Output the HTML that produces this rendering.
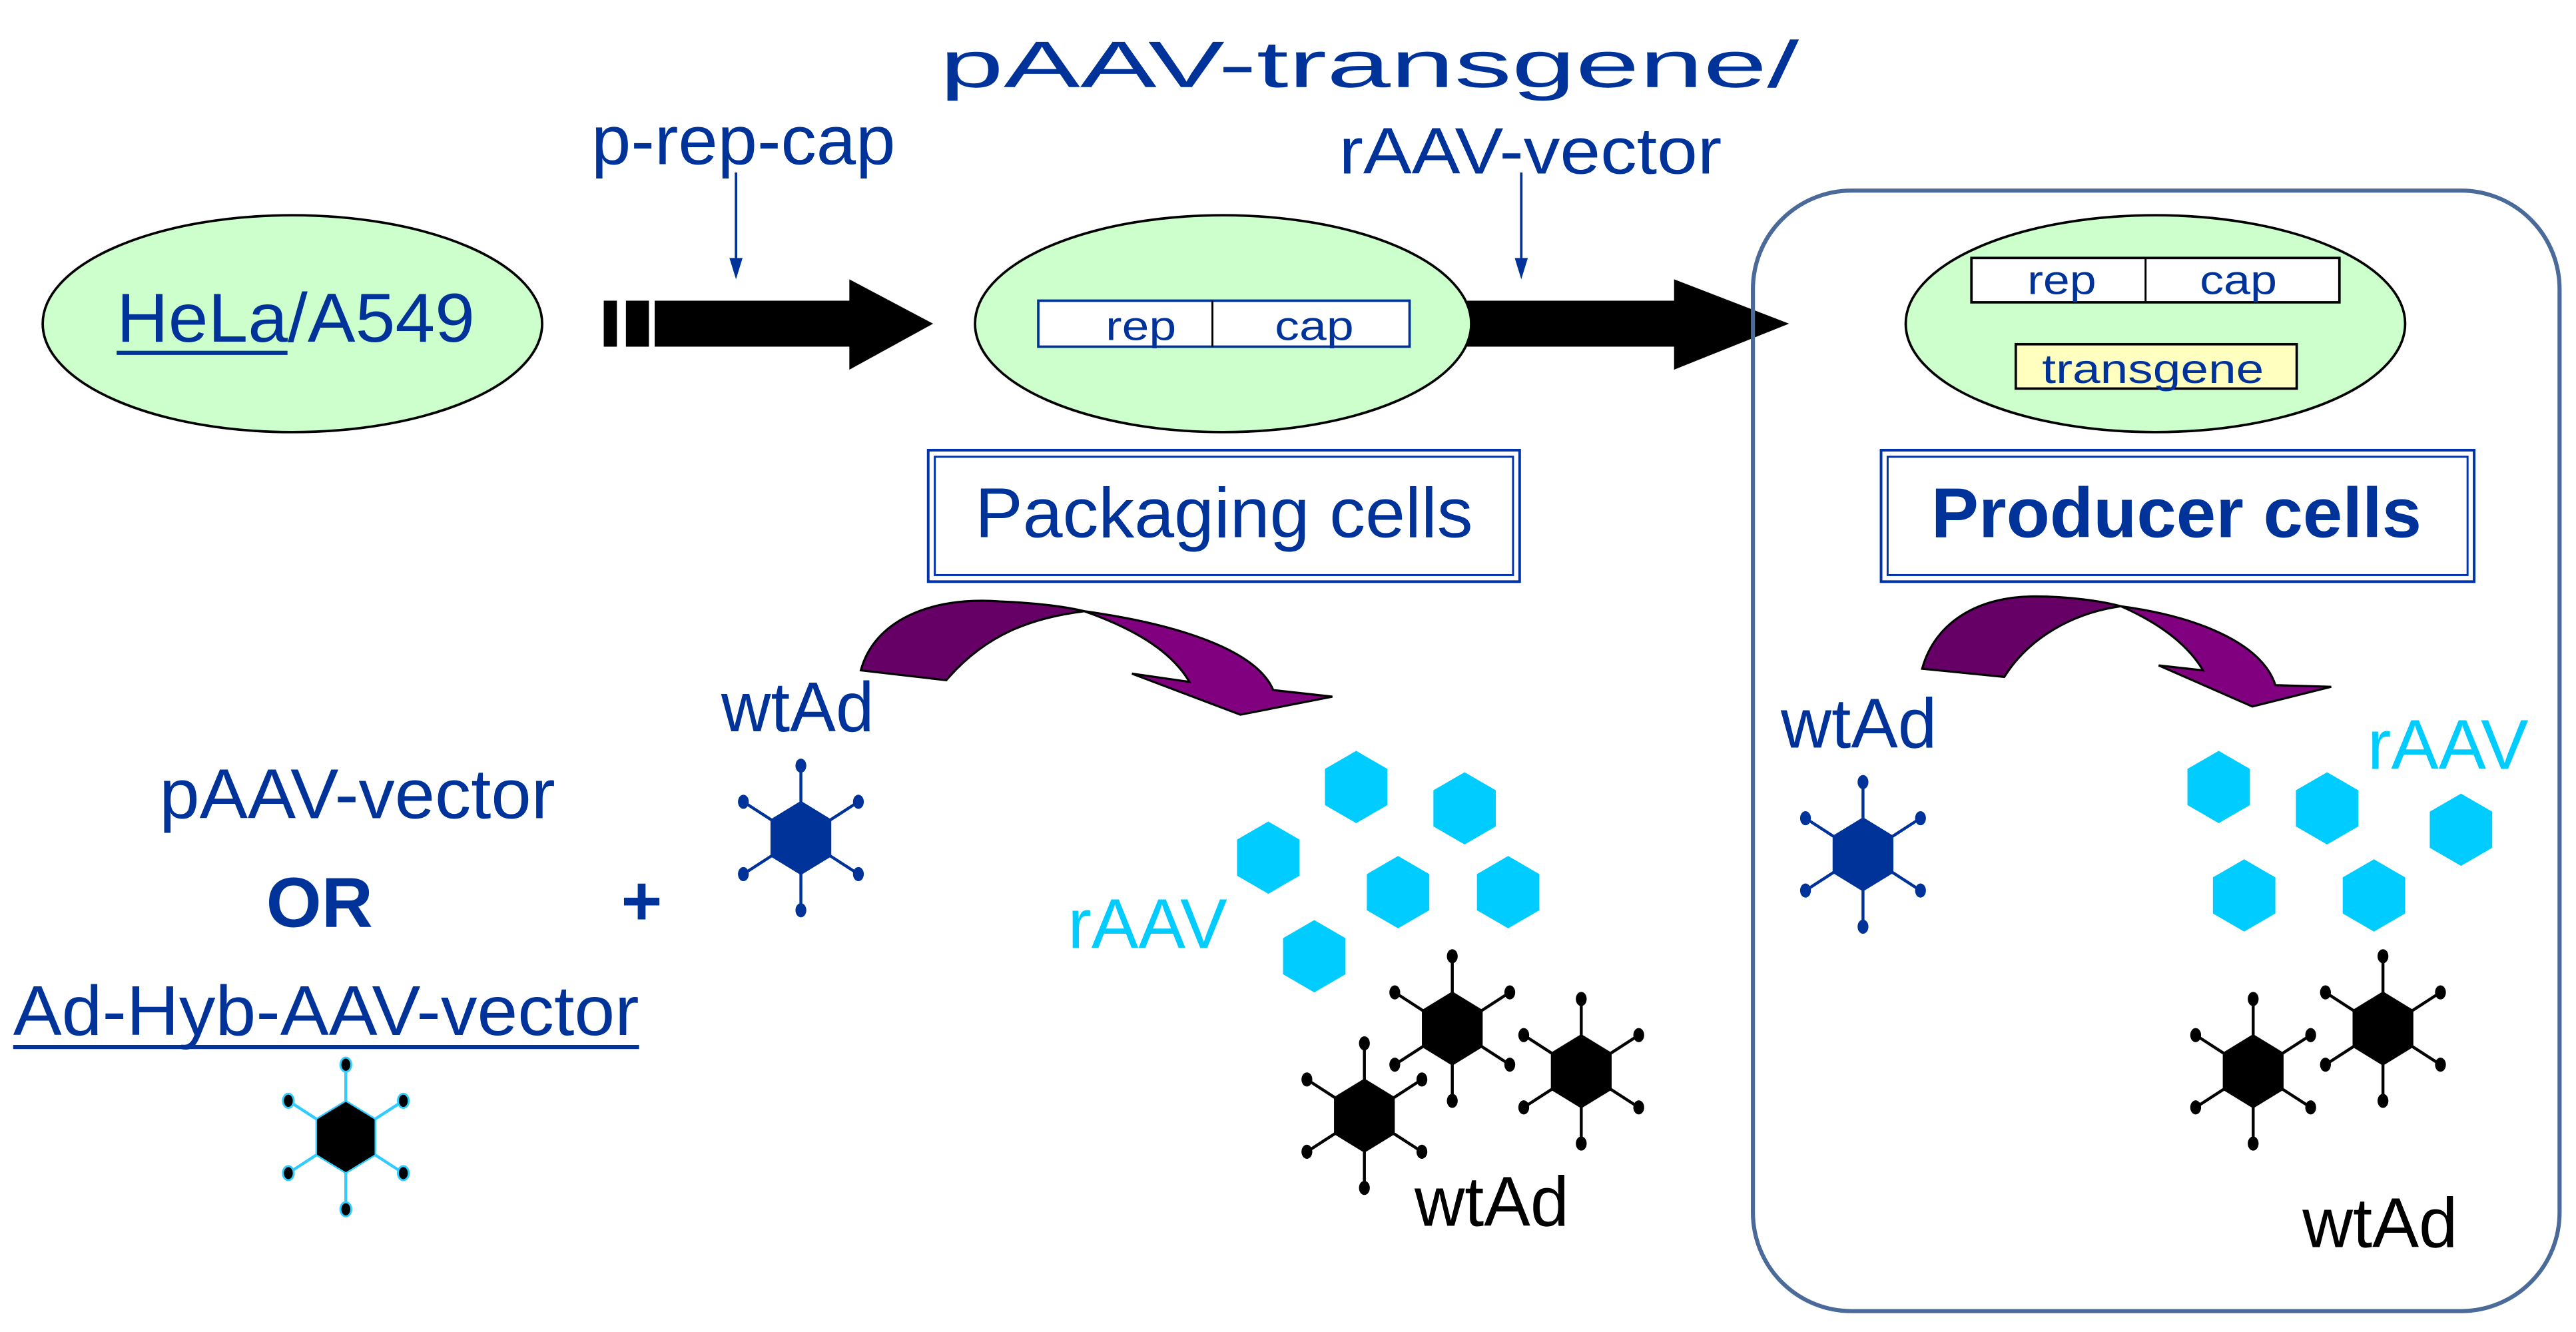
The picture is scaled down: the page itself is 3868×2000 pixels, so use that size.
<!DOCTYPE html>
<html><head><meta charset="utf-8"><style>
html,body{margin:0;padding:0;background:#fff;}
svg{display:block;}
text{font-family:"Liberation Sans Narrow","Liberation Sans",sans-serif;}
</style></head><body>
<svg width="3868" height="2000" viewBox="0 0 1568 810.7" preserveAspectRatio="none" xmlns="http://www.w3.org/2000/svg">
<defs>
<g id="vir">
<g stroke-width="1.8">
<line x1="0" y1="-22" x2="0" y2="-44"/><line x1="0" y1="22" x2="0" y2="44"/>
<line x1="18" y1="-11" x2="35" y2="-22"/><line x1="-18" y1="-11" x2="-35" y2="-22"/>
<line x1="18" y1="11" x2="35" y2="22"/><line x1="-18" y1="11" x2="-35" y2="22"/>
</g>
<polygon points="0,-22 18,-11 18,11 0,22 -18,11 -18,-11"/>
</g>
<g id="dots">
<ellipse cx="0" cy="-44" rx="3.3" ry="4.3"/><ellipse cx="0" cy="44" rx="3.3" ry="4.3"/>
<ellipse cx="35" cy="-22" rx="3.3" ry="4.3"/><ellipse cx="-35" cy="-22" rx="3.3" ry="4.3"/>
<ellipse cx="35" cy="22" rx="3.3" ry="4.3"/><ellipse cx="-35" cy="22" rx="3.3" ry="4.3"/>
</g>
<polygon id="hex" points="0,-22 19,-11 19,11 0,22 -19,11 -19,-11" fill="#00ccff"/>
</defs>

<text x="360" y="100" font-size="42" fill="#003399" textLength="185" lengthAdjust="spacingAndGlyphs">p-rep-cap</text>
<line x1="448" y1="105" x2="448" y2="160" stroke="#003399" stroke-width="1.5"/>
<polygon points="444,157 452,157 448,170" fill="#003399"/>
<text x="572" y="53" font-size="40" fill="#003399" textLength="523" lengthAdjust="spacingAndGlyphs">pAAV-transgene/</text>
<text x="815" y="105.5" font-size="40" fill="#003399" textLength="233" lengthAdjust="spacingAndGlyphs">rAAV-vector</text>
<line x1="926" y1="105" x2="926" y2="160" stroke="#003399" stroke-width="1.5"/>
<polygon points="922,157 930,157 926,170" fill="#003399"/>

<rect x="367.5" y="183" width="8" height="28" fill="#000"/>
<rect x="381" y="183" width="14" height="28" fill="#000"/>
<polygon points="398.5,183 517,183 517,170 568,197 517,225 517,211 398.5,211" fill="#000"/>
<polygon points="880,183 1019,183 1019,170 1089,197 1019,225 1019,211 880,211" fill="#000"/>

<ellipse cx="178" cy="197" rx="152" ry="66" fill="#ccffcc" stroke="#000" stroke-width="1.5"/>
<text x="71" y="208" font-size="42" fill="#003399" textLength="218" lengthAdjust="spacingAndGlyphs">HeLa/A549</text>
<rect x="71" y="213.5" width="104" height="2.5" fill="#003399"/>

<ellipse cx="744.5" cy="197" rx="151" ry="66" fill="#ccffcc" stroke="#000" stroke-width="1.5"/>
<rect x="632" y="183" width="226" height="28" fill="#fff" stroke="#003399" stroke-width="1.5"/>
<line x1="738" y1="183" x2="738" y2="211" stroke="#000" stroke-width="1.2"/>
<text x="673" y="207" font-size="25" fill="#003399" textLength="43" lengthAdjust="spacingAndGlyphs">rep</text>
<text x="776" y="207" font-size="25" fill="#003399" textLength="48" lengthAdjust="spacingAndGlyphs">cap</text>

<ellipse cx="1312" cy="197" rx="152" ry="66" fill="#ccffcc" stroke="#000" stroke-width="1.5"/>
<rect x="1200" y="157" width="224" height="27" fill="#fff" stroke="#000" stroke-width="1.5"/>
<line x1="1306" y1="157" x2="1306" y2="184" stroke="#000" stroke-width="1.2"/>
<text x="1234" y="179" font-size="25" fill="#003399" textLength="42" lengthAdjust="spacingAndGlyphs">rep</text>
<text x="1339" y="179" font-size="25" fill="#003399" textLength="47" lengthAdjust="spacingAndGlyphs">cap</text>
<rect x="1227" y="209.5" width="171" height="27" fill="#ffffc0" stroke="#000" stroke-width="1.5"/>
<text x="1243" y="233" font-size="25" fill="#003399" textLength="135" lengthAdjust="spacingAndGlyphs">transgene</text>

<rect x="1067" y="116" width="491" height="682" rx="60" ry="60" fill="none" stroke="#4a6a9a" stroke-width="2.5"/>

<rect x="565" y="274" width="360" height="80" fill="#fff" stroke="#0033aa" stroke-width="1.6"/>
<rect x="569" y="278" width="352" height="72" fill="none" stroke="#0033aa" stroke-width="1.2"/>
<text x="593.5" y="327" font-size="43" fill="#003399" textLength="303" lengthAdjust="spacingAndGlyphs">Packaging cells</text>
<rect x="1145" y="274" width="361" height="80" fill="#fff" stroke="#0033aa" stroke-width="1.6"/>
<rect x="1149" y="278" width="353" height="72" fill="none" stroke="#0033aa" stroke-width="1.2"/>
<text x="1175.5" y="327" font-size="43" font-weight="bold" fill="#003399" textLength="298.5" lengthAdjust="spacingAndGlyphs">Producer cells</text>

<g stroke="#000" stroke-width="1.3" stroke-linejoin="miter">
<path d="M524,408 C532,378 566,363 608,366 C630,367 648,369 660,372 C628,376 600,386 576,414 Z" fill="#660066"/>
<path d="M660,372 C718,380 765,396 775,420 L811,424 L755,435 L689,410 L724,415 C714,398 694,384 660,372 Z" fill="#800080"/>
<path d="M1170,407 C1178,378 1205,363 1238,363 C1260,363 1280,366 1291,369 C1262,373 1235,388 1220,412 Z" fill="#660066"/>
<path d="M1291,369 C1343,376 1378,394 1385,417 L1419,418 L1371,430 L1314,405 L1341,408 C1332,393 1316,380 1291,369 Z" fill="#800080"/>
</g>

<text x="439" y="445" font-size="43" fill="#003399" textLength="93" lengthAdjust="spacingAndGlyphs">wtAd</text>
<text x="97" y="498" font-size="43" fill="#003399" textLength="241" lengthAdjust="spacingAndGlyphs">pAAV-vector</text>
<text x="162" y="564" font-size="43" font-weight="bold" fill="#003399" textLength="65" lengthAdjust="spacingAndGlyphs">OR</text>
<text x="378" y="563" font-size="43" font-weight="bold" fill="#003399">+</text>
<text x="8" y="630" font-size="43" fill="#003399" textLength="381" lengthAdjust="spacingAndGlyphs">Ad-Hyb-AAV-vector</text>
<rect x="8" y="636" width="381" height="2.5" fill="#003399"/>
<text x="650" y="577" font-size="43" fill="#00ccff" textLength="97" lengthAdjust="spacingAndGlyphs">rAAV</text>
<text x="861" y="746" font-size="43" fill="#000" textLength="94" lengthAdjust="spacingAndGlyphs">wtAd</text>

<g transform="translate(487.5,510)" fill="#003399" stroke="#003399"><use href="#vir"/><use href="#dots" stroke="none"/></g>
<g transform="translate(210.5,692)"><g fill="#000" stroke="#33ccff"><use href="#vir"/></g><g fill="#000" stroke="#33ccff" stroke-width="1.2"><use href="#dots"/></g></g>
<g fill="#000" stroke="#000">
<g transform="translate(884,626)"><use href="#vir"/><use href="#dots" stroke="none"/></g>
<g transform="translate(962.5,652)"><use href="#vir"/><use href="#dots" stroke="none"/></g>
<g transform="translate(830.5,679)"><use href="#vir"/><use href="#dots" stroke="none"/></g>
<g transform="translate(1371.5,652)"><use href="#vir"/><use href="#dots" stroke="none"/></g>
<g transform="translate(1450.5,626)"><use href="#vir"/><use href="#dots" stroke="none"/></g>
</g>
<g transform="translate(1134,520)" fill="#003399" stroke="#003399"><use href="#vir"/><use href="#dots" stroke="none"/></g>

<use href="#hex" x="825.5" y="479"/>
<use href="#hex" x="891.5" y="492"/>
<use href="#hex" x="772" y="522"/>
<use href="#hex" x="851" y="543"/>
<use href="#hex" x="918" y="543"/>
<use href="#hex" x="800" y="582"/>
<use href="#hex" x="1350.5" y="479"/>
<use href="#hex" x="1416.5" y="492"/>
<use href="#hex" x="1498" y="505"/>
<use href="#hex" x="1366" y="545"/>
<use href="#hex" x="1445" y="545"/>

<text x="1084" y="455" font-size="43" fill="#003399" textLength="95" lengthAdjust="spacingAndGlyphs">wtAd</text>
<text x="1441" y="468" font-size="43" fill="#00ccff" textLength="98" lengthAdjust="spacingAndGlyphs">rAAV</text>
<text x="1401.5" y="759" font-size="43" fill="#000" textLength="94.5" lengthAdjust="spacingAndGlyphs">wtAd</text>
</svg>
</body></html>
